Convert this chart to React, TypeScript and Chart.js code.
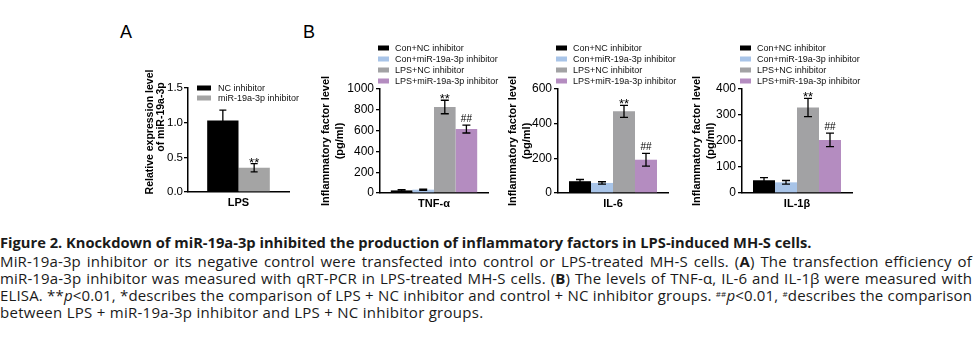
import React, { useEffect, useRef } from "react";
import { Chart, registerables } from "chart.js";

Chart.register(...registerables);

// ---------- Data ----------
// Panel A
const catA = ["LPS"];
const seriesA = ["NC inhibitor", "miR-19a-3p inhibitor"];
const meanA = [1.03, 0.35];
const errA = [0.15, 0.06];
const marksA = ["", "**"];
const colorsA = ["#000000", "#a4a4a4"];
const titleA = ["Relative expression level", "of miR-19a-3p"];

// Panel B (shared groups)
const seriesB = [
  "Con+NC inhibitor",
  "Con+miR-19a-3p inhibitor",
  "LPS+NC inhibitor",
  "LPS+miR-19a-3p inhibitor",
];
const colorsB = ["#000000", "#a8c4e8", "#a2a2a4", "#b48cc0"];
const marksB = ["", "", "**", "##"];
const titleB = ["Inflammatory factor level", "(pg/ml)"];

const catTNF = ["TNF-α"];
const meanTNF = [25, 32, 827, 615];
const errTNF = [8, 6, 65, 38];

const catIL6 = ["IL-6"];
const meanIL6 = [68, 58, 471, 192];
const errIL6 = [10, 7, 35, 37];

const catIL1 = ["IL-1β"];
const meanIL1 = [49, 41, 329, 204];
const errIL1 = [10, 7, 35, 26];

// ---------- Plugins ----------
const FONT = "'Liberation Sans', Arial, Helvetica, sans-serif";

const errorBarPlugin = {
  id: "errorBars",
  afterDatasetsDraw(chart: any, _a: any, o: any) {
    const { ctx } = chart;
    const ys = chart.scales.y;
    chart.data.datasets.forEach((ds: any, i: number) => {
      const meta = chart.getDatasetMeta(i);
      const bar: any = meta.data[0];
      if (!bar) return;
      const m = ds.data[0];
      const e = ds.err;
      const yt = ys.getPixelForValue(m + e);
      const yb = ys.getPixelForValue(Math.max(m - e, 0));
      const cap = o.cap;
      ctx.save();
      ctx.strokeStyle = "#000";
      ctx.lineWidth = 1.3;
      ctx.beginPath();
      ctx.moveTo(bar.x, yt);
      ctx.lineTo(bar.x, yb);
      ctx.moveTo(bar.x - cap, yt);
      ctx.lineTo(bar.x + cap, yt);
      ctx.moveTo(bar.x - cap, yb);
      ctx.lineTo(bar.x + cap, yb);
      ctx.stroke();
      if (ds.mark) {
        ctx.fillStyle = "#000";
        ctx.textAlign = "center";
        ctx.textBaseline = "alphabetic";
        if (ds.mark.charAt(0) === "*") {
          ctx.font = `13px ${FONT}`;
          ctx.fillText(ds.mark, bar.x, yt + 3);
        } else {
          ctx.font = `10px ${FONT}`;
          ctx.fillText(ds.mark, bar.x, yt - 3);
        }
      }
      ctx.restore();
    });
  },
};

const boxLegendPlugin = {
  id: "boxLegend",
  afterDraw(chart: any, _a: any, o: any) {
    const { ctx, chartArea } = chart;
    ctx.save();
    ctx.font = `${o.fontSize}px ${FONT}`;
    ctx.textBaseline = "middle";
    ctx.textAlign = "left";
    chart.data.datasets.forEach((ds: any, i: number) => {
      const cy = chartArea.top + o.firstRow + o.rowGap * i;
      const bx = chartArea.left + o.dx;
      ctx.fillStyle = ds.backgroundColor;
      ctx.fillRect(bx, cy - o.boxH / 2, o.boxW, o.boxH);
      ctx.fillStyle = "#111";
      ctx.fillText(ds.label, bx + o.boxW + o.textGap, cy + 0.5);
    });
    ctx.restore();
  },
};

// free-placed rotated axis title (used for panel A, whose two lines are not co-centred)
const sideTitlePlugin = {
  id: "sideTitle",
  afterDraw(chart: any, _a: any, o: any) {
    if (!o || !o.lines) return;
    const { ctx, chartArea } = chart;
    ctx.save();
    ctx.font = `bold ${o.fontSize}px ${FONT}`;
    ctx.fillStyle = "#000";
    ctx.textAlign = "center";
    ctx.textBaseline = "middle";
    o.lines.forEach((txt: string, i: number) => {
      ctx.save();
      ctx.translate(chartArea.left + o.dx[i], chartArea.top + o.dy[i]);
      ctx.rotate(-Math.PI / 2);
      ctx.fillText(txt, 0, 0);
      ctx.restore();
    });
    ctx.restore();
  },
};

// ---------- Config builder ----------
type PanelCfg = {
  labels: string[];
  series: string[];
  means: number[];
  errs: number[];
  marks: string[];
  colors: string[];
  yMax: number;
  yStep: number;
  decimals: number;
  title: string[];
  titleSize: number;
  titleLH: number;
  titlePad: number;
  sideTitle: any;
  tickSize: number;
  tickPad: number;
  catPct: number;
  padTop: number;
  padRight: number;
  padBottom: number;
  axisW: number;
  legend: any;
  cap: number;
};

function buildConfig(p: PanelCfg): any {
  return {
    type: "bar",
    data: {
      labels: p.labels,
      datasets: p.series.map((name, i) => ({
        label: name,
        data: [p.means[i]],
        err: p.errs[i],
        mark: p.marks[i],
        backgroundColor: p.colors[i],
        borderWidth: 0,
        categoryPercentage: p.catPct,
        barPercentage: 1.0,
      })),
    },
    options: {
      animation: false,
      responsive: false,
      devicePixelRatio: 1,
      events: [],
      layout: {
        padding: { top: p.padTop, right: p.padRight, bottom: p.padBottom, left: 0 },
      },
      plugins: {
        legend: { display: false },
        tooltip: { enabled: false },
        errorBars: { cap: p.cap },
        boxLegend: p.legend,
        sideTitle: p.sideTitle,
      },
      scales: {
        x: {
          grid: { display: false, drawTicks: false },
          border: { display: true, color: "#000", width: 1.5 },
          ticks: {
            color: "#000",
            padding: 4,
            font: { family: FONT, size: 11, weight: "bold" },
          },
          afterFit: (s: any) => {
            s.height = 20;
          },
        },
        y: {
          min: 0,
          max: p.yMax,
          grid: {
            display: true,
            drawOnChartArea: false,
            drawTicks: true,
            tickLength: 4,
            color: "#000",
            lineWidth: 1.3,
          },
          border: { display: true, color: "#000", width: 1.5 },
          ticks: {
            stepSize: p.yStep,
            color: "#000",
            padding: p.tickPad,
            font: { family: FONT, size: p.tickSize },
            callback: (v: any) => Number(v).toFixed(p.decimals),
          },
          title: {
            display: p.title.length > 0,
            text: p.title,
            color: "#000",
            font: { family: FONT, size: p.titleSize, weight: "bold", lineHeight: p.titleLH },
            padding: { top: p.titlePad, bottom: 0 },
          },
          afterFit: (s: any) => {
            s.width = p.axisW;
          },
        },
      },
    },
    plugins: [errorBarPlugin, boxLegendPlugin, sideTitlePlugin],
  };
}

function ChartBox(props: { cfg: any; left: number; top: number; width: number; height: number }) {
  const ref = useRef<HTMLCanvasElement>(null);
  useEffect(() => {
    const chart = new Chart(ref.current as HTMLCanvasElement, props.cfg);
    return () => chart.destroy();
  }, []);
  return (
    <canvas
      ref={ref}
      width={props.width}
      height={props.height}
      style={{
        position: "absolute",
        left: props.left,
        top: props.top,
        width: props.width,
        height: props.height,
      }}
    />
  );
}

const legendB = {
  dx: -2,
  firstRow: -41,
  rowGap: 11,
  boxW: 11,
  boxH: 5,
  textGap: 6,
  fontSize: 9,
};

const cfgA = buildConfig({
  labels: catA,
  series: seriesA,
  means: meanA,
  errs: errA,
  marks: marksA,
  colors: colorsA,
  yMax: 1.5,
  yStep: 0.5,
  decimals: 1,
  title: [],
  titleSize: 10.5,
  titleLH: 1.2,
  titlePad: 0,
  sideTitle: { lines: titleA, fontSize: 10.5, dx: [-38, -27], dy: [44, 29] },
  tickSize: 11.5,
  tickPad: 1,
  catPct: 0.62,
  padTop: 88,
  padRight: 11,
  padBottom: 18,
  axisW: 88,
  legend: { dx: 9, firstRow: 0, rowGap: 10, boxW: 14, boxH: 5, textGap: 7, fontSize: 9 },
  cap: 3.5,
});

function cfgB(labels: string[], means: number[], errs: number[], yMax: number, yStep: number, titlePad: number, padRight: number) {
  return buildConfig({
    labels,
    series: seriesB,
    means,
    errs,
    marks: marksB,
    colors: colorsB,
    yMax,
    yStep,
    decimals: 0,
    title: titleB,
    titleSize: 11,
    titleLH: 1.3,
    titlePad,
    sideTitle: null,
    tickSize: 12,
    tickPad: 2,
    catPct: 0.8,
    padTop: 89,
    padRight,
    padBottom: 17,
    axisW: 70,
    legend: legendB,
    cap: 4,
  });
}

const cfgTNF = cfgB(catTNF, meanTNF, errTNF, 1000, 200, 8.9, 12);
const cfgIL6 = cfgB(catIL6, meanIL6, errIL6, 600, 200, 17.9, 10);
const cfgIL1 = cfgB(catIL1, meanIL1, errIL1, 400, 100, 17.9, 10);

const capFont = "'Open Sans', 'Noto Sans', sans-serif";

export default function App() {
  const lineStyle: React.CSSProperties = {
    textAlign: "justify",
    textAlignLast: "justify" as any,
  };
  const sup: React.CSSProperties = { fontSize: "8px", verticalAlign: "4px", lineHeight: 0 };
  return (
    <div
      style={{
        position: "absolute",
        left: 0,
        top: 0,
        width: 974,
        height: 350,
        background: "#fff",
        overflow: "hidden",
      }}
    >
      <div style={{ position: "absolute", left: 120, top: 23, font: `18px/18px ${FONT}`, color: "#000" }}>A</div>
      <div style={{ position: "absolute", left: 303, top: 23, font: `18px/18px ${FONT}`, color: "#000" }}>B</div>
      <ChartBox cfg={cfgA} left={100} top={0} width={200} height={230} />
      <ChartBox cfg={cfgTNF} left={310} top={0} width={190} height={230} />
      <ChartBox cfg={cfgIL6} left={488} top={0} width={190} height={230} />
      <ChartBox cfg={cfgIL1} left={672} top={0} width={190} height={230} />
      <div
        style={{
          position: "absolute",
          left: 0,
          top: 234,
          width: 972,
          fontFamily: capFont,
          fontSize: "15px",
          letterSpacing: "0.15px",
          lineHeight: "17px",
          color: "#1a1a1a",
        }}
      >
        <div style={{ fontWeight: "bold", fontSize: "14.7px", letterSpacing: 0, marginBottom: 2, whiteSpace: "nowrap" }}>
          Figure 2. Knockdown of miR-19a-3p inhibited the production of inflammatory factors in LPS-induced MH-S cells.
        </div>
        <div style={lineStyle}>
          MiR-19a-3p inhibitor or its negative control were transfected into control or LPS-treated MH-S cells. (<b>A</b>) The transfection efficiency of
        </div>
        <div style={lineStyle}>
          miR-19a-3p inhibitor was measured with qRT-PCR in LPS-treated MH-S cells. (<b>B</b>) The levels of TNF-α, IL-6 and IL-1β were measured with
        </div>
        <div style={lineStyle}>
          ELISA. **<i>p</i>&lt;0.01, *describes the comparison of LPS + NC inhibitor and control + NC inhibitor groups. <span style={sup}>##</span><i>p</i>&lt;0.01, <span style={sup}>#</span>describes the comparison
        </div>
        <div style={{ whiteSpace: "nowrap", letterSpacing: "0.27px" }}>
          between LPS + miR-19a-3p inhibitor and LPS + NC inhibitor groups.
        </div>
      </div>
    </div>
  );
}
